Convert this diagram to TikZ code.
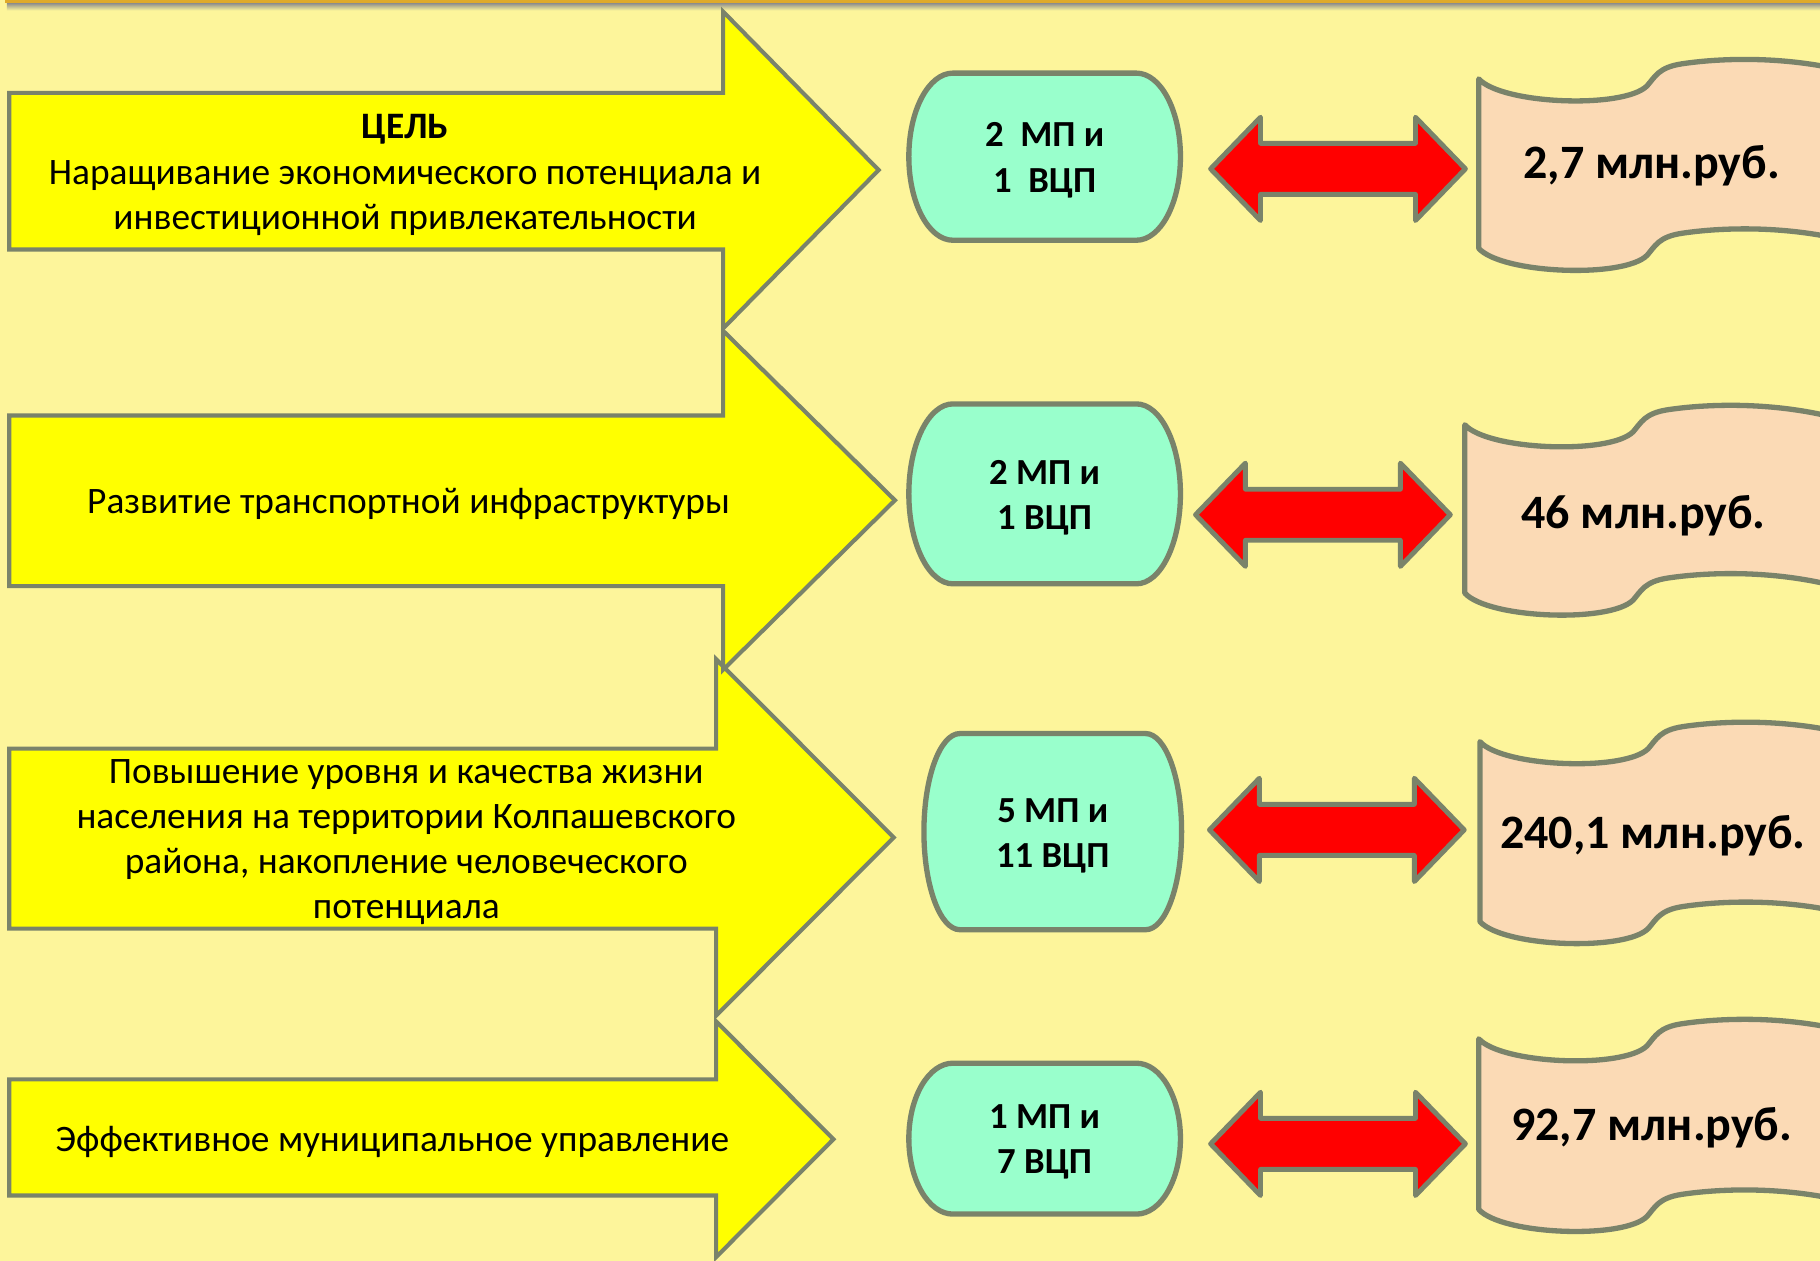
\documentclass[tikz,border=0pt]{standalone}
\usepackage{fontspec}
\setmainfont{Carlito}
\definecolor{bgyellow}{RGB}{253,245,155}
\definecolor{arrowyellow}{RGB}{255,255,0}
\definecolor{edgegray}{RGB}{122,131,106}
\definecolor{mint}{RGB}{153,255,204}
\definecolor{peach}{RGB}{251,218,181}
\definecolor{gold}{RGB}{223,170,43}

\tikzset{
  goalarrow/.style={fill=arrowyellow, draw=edgegray, line width=1pt, line join=miter},
  goaltext/.style={align=center, inner sep=0pt, font=\fontsize{9.15}{11.1}\selectfont},
  countbox/.style={fill=mint, draw=edgegray, line width=1.3pt},
  counttext/.style={align=center, inner sep=0pt, font=\fontsize{9}{11.1}\selectfont\bfseries},
  linkarrow/.style={fill=red, draw=edgegray, line width=1.2pt, line join=round},
  scrollbox/.style={fill=peach, draw=edgegray, line width=1.3pt, line join=round},
  sumtext/.style={inner sep=0pt, font=\fontsize{11.75}{14}\selectfont\bfseries}
}

% big yellow arrow: body top, body bottom, shaft end, head top, head bottom, tip
\newcommand{\goalshape}[6]{%
  \draw[goalarrow] (8,#1) -- (#3,#1) -- (#3,#4) -- (#6,{(#4+#5)/2})
    -- (#3,#5) -- (#3,#2) -- (8,#2) -- cycle;}

% rounded box: left, right, top, bottom, corner width
\newcommand{\countshape}[5]{%
  \pgfmathsetmacro\boxmid{(#3+#4)/2}
  \pgfmathsetmacro\boxhalf{0.5523*(#4-#3)/2}
  \pgfmathsetmacro\boxk{0.5523*#5}
  \pgfmathsetmacro\boxl{#1+#5}
  \pgfmathsetmacro\boxr{#2-#5}
  \draw[countbox] (\boxl,#3) -- (\boxr,#3)
    .. controls (\boxr+\boxk,#3) and (#2,\boxmid-\boxhalf) .. (#2,\boxmid)
    .. controls (#2,\boxmid+\boxhalf) and (\boxr+\boxk,#4) .. (\boxr,#4)
    -- (\boxl,#4)
    .. controls (\boxl-\boxk,#4) and (#1,\boxmid+\boxhalf) .. (#1,\boxmid)
    .. controls (#1,\boxmid-\boxhalf) and (\boxl-\boxk,#3) .. (\boxl,#3) -- cycle;}

% red double arrow: left tip, middle
\newcommand{\linkshape}[2]{%
  \begin{scope}[shift={(#1,#2)}]
  \draw[linkarrow] (0,0) -- (43,-44.5) -- (43,-22) -- (176.5,-22) -- (176.5,-44.5)
    -- (219.5,0) -- (176.5,44.5) -- (176.5,22) -- (43,22) -- (43,44.5) -- cycle;
  \end{scope}}

% wavy banner: left, top, height
\newcommand{\sumshape}[3]{%
  \begin{scope}[shift={(#1,#2)}]
  \draw[scrollbox] (0,0) .. controls (20,22) and (125,26) .. (145,6)
    .. controls (152,-2) and (155,-10) .. (175,-13)
    .. controls (215,-19) and (280,-20) .. (340,0)
    -- (340,#3) .. controls (280,#3-20) and (215,#3-19) .. (175,#3-13)
    .. controls (155,#3-10) and (152,#3-2) .. (145,#3+6)
    .. controls (125,#3+26) and (20,#3+22) .. (0,#3) -- cycle;
  \end{scope}}

\begin{document}
\begin{tikzpicture}[x=0.01cm, y=-0.01cm]
  \useasboundingbox (0,0) rectangle (1568,1086);
  \begin{scope}
  \clip (0,0) rectangle (1568,1086);
  \fill[bgyellow] (0,0) rectangle (1568,1086);
  \shade[top color=black!45, bottom color=bgyellow] (6,2.6) rectangle (1568,9);
  \fill[gold] (4,0) rectangle (1568,2.8);

  \goalshape{930}{1030}{617}{880}{1083}{718}
  \goalshape{645}{800}{617}{568}{875}{770}
  \goalshape{358}{505}{623}{285}{577}{771}
  \goalshape{80}{215}{623}{10}{283}{757}

  \node[goaltext] (goal1) at (349,151) {\textbf{ЦЕЛЬ}\\Наращивание экономического потенциала и\\инвестиционной привлекательности};
  \node[goaltext] (goal2) at (352,434) {Развитие транспортной инфраструктуры};
  \node[goaltext] (goal3) at (350,725.5) {Повышение уровня и качества жизни\\населения на территории Колпашевского\\района, накопление человеческого\\потенциала};
  \node[goaltext] (goal4) at (338,984) {Эффективное муниципальное управление};

  \countshape{783}{1017}{63}{207}{38}
  \countshape{783}{1017}{348}{503}{38}
  \countshape{796}{1018}{632}{801}{31}
  \countshape{783}{1017}{916}{1046}{38}

  \node[counttext] (count1) at (900,138) {2\ \ МП и\\1\ \ ВЦП};
  \node[counttext] (count2) at (900,429) {2 МП и\\1 ВЦП};
  \node[counttext] (count3) at (907,720) {5 МП и\\11 ВЦП};
  \node[counttext] (count4) at (900,984) {1 МП и\\7 ВЦП};

  \linkshape{1043}{145.5}
  \linkshape{1030}{443.5}
  \linkshape{1042}{715}
  \linkshape{1043}{985.5}

  \sumshape{1274}{68}{146}
  \sumshape{1262}{366}{145}
  \sumshape{1275}{639}{155}
  \sumshape{1274}{895}{147}

  \node[sumtext] (sum1) at (1423,143) {2,7 млн.руб.};
  \node[sumtext] (sum2) at (1416,444) {46 млн.руб.};
  \node[sumtext] (sum3) at (1424,720) {240,1 млн.руб.};
  \node[sumtext] (sum4) at (1423,972) {92,7 млн.руб.};
  \end{scope}
\end{tikzpicture}
\end{document}
